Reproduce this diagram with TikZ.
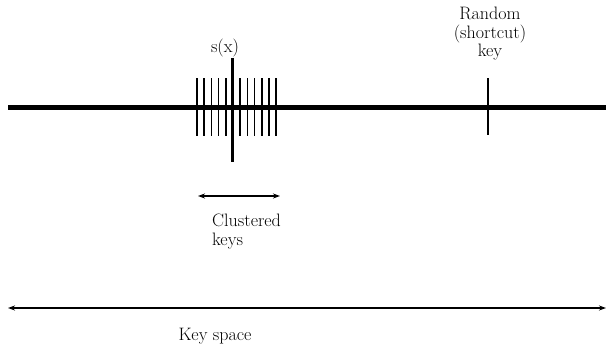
\documentclass[tikz,border=0pt]{standalone}
\usetikzlibrary{arrows.meta}
\begin{document}
\begin{tikzpicture}[x=1pt, y=-1pt,
  lbl/.style={font=\fontsize{18}{18.5}\selectfont, inner sep=0pt},
  span/.style={{Stealth[length=7pt,width=5pt]}-{Stealth[length=7pt,width=5pt]}, line width=1.3pt}]
\useasboundingbox (0,0) rectangle (610,345);
\coordinate (axisL) at (8,107);
\coordinate (axisR) at (606,107);
\draw[line width=5pt] (axisL) -- (axisR);
\foreach \i in {0,...,11} \draw[line width=1.6pt] (197+7.2*\i, 78) -- (197+7.2*\i, 136);
\coordinate (sxTop) at (232,58);
\coordinate (sxBot) at (232,162);
\draw[line width=3pt] (sxTop) -- (sxBot);
\node[lbl, anchor=south] (sx) at (225,57) {s(x)};
\coordinate (rndTop) at (488,78);
\coordinate (rndBot) at (488,135);
\draw[line width=1.5pt] (rndTop) -- (rndBot);
\node[lbl, align=center] (rnd) at (490,34) {Random\\(shortcut)\\key};
\coordinate (clL) at (198,196);
\coordinate (clR) at (280,196);
\draw[span] (clL) -- (clR);
\node[lbl, align=left, anchor=north west] (cl) at (212,214) {Clustered\\keys};
\coordinate (ksL) at (8,308);
\coordinate (ksR) at (606,308);
\draw[span] (ksL) -- (ksR);
\node[lbl] (ks) at (215,336) {Key space};
\end{tikzpicture}
\end{document}
